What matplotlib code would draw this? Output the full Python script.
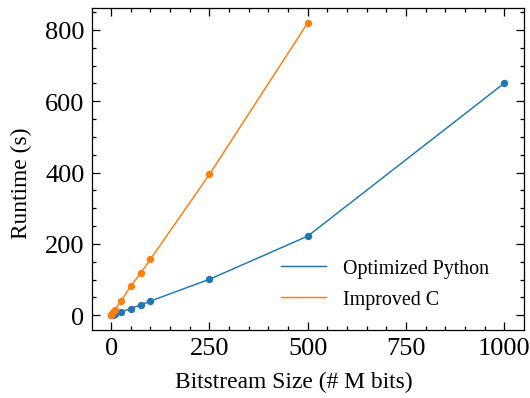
import matplotlib
matplotlib.use("Agg")
import matplotlib.pyplot as plt
from matplotlib.ticker import AutoMinorLocator

# bitstream size (# M bits) and runtimes (s)
sizes = [1, 5, 10, 25, 50, 75, 100, 250, 500, 1000]
python_rt = [0.4, 2, 4, 9, 19, 29, 40, 101, 222, 651]
sizes_c = [1, 5, 10, 25, 50, 75, 100, 250, 500]
c_rt = [1.6, 8, 16, 39, 82, 118, 157, 395, 820]

plt.rcParams.update({
    "font.family": "serif",
    "font.serif": ["Liberation Serif", "DejaVu Serif"],
    "font.size": 11.2,
    "xtick.labelsize": 12.5,
    "ytick.labelsize": 12.5,
    "axes.linewidth": 0.6,
    "xtick.direction": "in",
    "ytick.direction": "in",
    "xtick.top": True,
    "ytick.right": True,
    "xtick.major.size": 4,
    "ytick.major.size": 4,
    "xtick.minor.size": 2,
    "ytick.minor.size": 2,
    "xtick.major.width": 0.6,
    "ytick.major.width": 0.6,
    "xtick.minor.width": 0.6,
    "ytick.minor.width": 0.6,
    "xtick.minor.visible": True,
    "ytick.minor.visible": True,
    "legend.frameon": False,
})

fig = plt.figure(figsize=(3.5, 2.63), dpi=151.7)
ax = fig.add_subplot(111)
fig.subplots_adjust(left=0.173, right=0.987, top=0.977, bottom=0.171)

l1, = ax.plot(sizes, python_rt, lw=0.7, label="Optimized Python")
l2, = ax.plot(sizes_c, c_rt, lw=0.7, label="Improved C")
ax.plot(sizes, python_rt, ls="none", marker=".", markersize=5, color=l1.get_color())
ax.plot(sizes_c, c_rt, ls="none", marker=".", markersize=5, color=l2.get_color())

ax.set_xticks([0, 250, 500, 750, 1000])
ax.set_yticks([0, 200, 400, 600, 800])
ax.xaxis.set_minor_locator(AutoMinorLocator(5))
ax.yaxis.set_minor_locator(AutoMinorLocator(4))
ax.set_xlabel("Bitstream Size (# M bits)", x=0.468, labelpad=5.5)
ax.set_ylabel("Runtime (s)", y=0.46, labelpad=6)
ax.legend(handles=[l1, l2], loc="lower right", bbox_to_anchor=(0.9375, 0.041),
          borderaxespad=0, fontsize=9.5, handlelength=2.25, handletextpad=0.85,
          labelspacing=0.6)

fig.savefig("out.png", dpi=151.7)
